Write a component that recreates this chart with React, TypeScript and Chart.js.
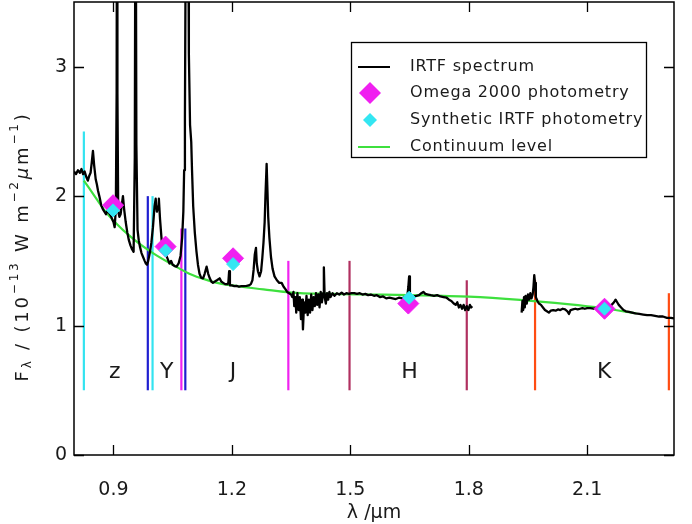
import React, { useEffect, useRef } from 'react';
import { Chart, registerables } from 'chart.js';

Chart.register(...registerables);

// ---------- data ----------
const X_TICKS = [0.9, 1.2, 1.5, 1.8, 2.1];
const Y_TICKS = [0, 1, 2, 3];

// IRTF spectrum (wavelength in micron, flux in 1e-13 W m^-2 um^-1); null = gap
const SPEC_WAVE = [
  0.800, 0.805, 0.810, 0.815, 0.819, 0.823, 0.827, 0.831, 0.835, 0.839, 0.842, 0.845, 0.848, 0.851, 0.855,
  0.858, 0.861, 0.865, 0.869, 0.873, 0.877, 0.881, 0.885, 0.889, 0.893, 0.897, 0.900, 0.903, 0.906, 0.908,
  0.909, 0.910, 0.912, 0.915, 0.918, 0.921, 0.924, 0.927, 0.931, 0.935, 0.939, 0.943, 0.947, 0.951, 0.954,
  0.956, 0.958, 0.961, 0.964, 0.967, 0.971, 0.975, 0.979, 0.982, 0.985, 0.988, 0.992, 0.996, 1.000, 1.004,
  1.007, 1.010, 1.013, 1.015, 1.018, 1.022, 1.026, 1.030, 1.034, 1.038, 1.042, 1.046, 1.050, 1.055, 1.060,
  1.065, 1.070, 1.074, 1.077, 1.079, 1.081, 1.083, 1.085, 1.087, 1.089, 1.091, 1.094, 1.097, 1.099, 1.102,
  1.106, 1.110, 1.114, 1.118, 1.122, 1.127, 1.131, 1.136, 1.140, 1.144, 1.148, 1.152, 1.157, 1.162, 1.169,
  1.173, 1.178, 1.183, 1.188, 1.191, 1.193, 1.195, 1.200, 1.206, 1.212, 1.218, 1.224, 1.230, 1.237, 1.243,
  1.248, 1.252, 1.255, 1.258, 1.261, 1.263, 1.266, 1.270, 1.274, 1.277, 1.280, 1.283, 1.285, 1.288, 1.290,
  1.292, 1.295, 1.299, 1.303, 1.308, 1.314, 1.320, 1.326, 1.331, 1.336, 1.340, 1.345, 1.350, 1.353, 1.356,
  1.358, 1.361, 1.363, 1.366, 1.369, 1.372, 1.375, 1.378, 1.380, 1.383, 1.386, 1.389, 1.392, 1.395, 1.398,
  1.401, 1.404, 1.407, 1.410, 1.413, 1.416, 1.419, 1.422, 1.425, 1.428, 1.431, 1.433, 1.435, 1.438, 1.441,
  1.444, 1.447, 1.450, 1.455, 1.460, 1.466, 1.472, 1.478, 1.484, 1.490, 1.497, 1.503, 1.510, 1.517, 1.524,
  1.531, 1.538, 1.545, 1.552, 1.560, 1.567, 1.575, 1.583, 1.591, 1.599, 1.607, 1.615, 1.623, 1.631, 1.638,
  1.644, 1.647, 1.649, 1.651, 1.656, 1.662, 1.668, 1.674, 1.680, 1.685, 1.690, 1.697, 1.704, 1.712, 1.720,
  1.728, 1.736, 1.744, 1.750, 1.756, 1.762, 1.767, 1.771, 1.775, 1.779, 1.783, 1.787, 1.791, 1.795, 1.799,
  1.803, 1.806, 1.809,
  1.870,
  1.934, 1.936, 1.938, 1.940, 1.942, 1.944, 1.947, 1.950, 1.953, 1.956, 1.959, 1.962, 1.964, 1.966, 1.968,
  1.970, 1.974, 1.978, 1.983, 1.988, 1.993, 1.998, 2.003, 2.008, 2.014, 2.020, 2.026, 2.032, 2.038, 2.044,
  2.050, 2.054, 2.058, 2.064, 2.070, 2.076, 2.082, 2.088, 2.094, 2.100, 2.108, 2.116, 2.124, 2.132, 2.140,
  2.148, 2.156, 2.162, 2.168, 2.172, 2.176, 2.180, 2.186, 2.192, 2.198, 2.206, 2.214, 2.222, 2.232, 2.242,
  2.252, 2.262, 2.272, 2.282, 2.292, 2.302, 2.312, 2.320,
];
const SPEC_FLUX = [
  2.19, 2.17, 2.20, 2.18, 2.21, 2.17, 2.19, 2.15, 2.12, 2.16, 2.18, 2.26, 2.35, 2.24, 2.13,
  2.09, 2.04, 1.99, 1.93, 1.90, 1.88, 1.86, 1.89, 1.87, 1.85, 1.82, 1.80, 1.76, 1.90, 2.80,
  5.00, 2.80, 1.88, 1.84, 1.86, 1.93, 2.00, 1.90, 1.80, 1.72, 1.66, 1.62, 1.59, 1.57, 2.30,
  5.00, 2.40, 1.74, 1.66, 1.61, 1.56, 1.53, 1.50, 1.48, 1.47, 1.50, 1.56, 1.64, 1.76, 1.92,
  1.98, 1.88, 1.92, 1.98, 1.82, 1.66, 1.60, 1.56, 1.54, 1.51, 1.48, 1.50, 1.47, 1.46, 1.455,
  1.48, 1.54, 1.68, 1.88, 2.20, 2.60, 4.00, 6.00, 6.00, 4.50, 3.10, 2.55, 2.42, 2.20, 1.92,
  1.72, 1.58, 1.47, 1.40, 1.37, 1.365, 1.40, 1.455, 1.40, 1.365, 1.34, 1.33, 1.34, 1.35, 1.365,
  1.34, 1.33, 1.32, 1.32, 1.33, 1.42, 1.31, 1.31, 1.305, 1.306, 1.30, 1.305, 1.305, 1.306, 1.31,
  1.32, 1.35, 1.43, 1.55, 1.60, 1.48, 1.42, 1.38, 1.42, 1.52, 1.64, 1.80, 2.00, 2.25, 2.05,
  1.84, 1.68, 1.53, 1.44, 1.38, 1.35, 1.33, 1.33, 1.30, 1.28, 1.26, 1.25, 1.24, 1.22, 1.26,
  1.15, 1.22, 1.10, 1.25, 1.12, 1.22, 1.05, 1.20, 0.97, 1.18, 1.10, 1.23, 1.08, 1.20, 1.10,
  1.24, 1.12, 1.22, 1.15, 1.25, 1.16, 1.24, 1.14, 1.26, 1.18, 1.25, 1.45, 1.22, 1.17, 1.25,
  1.20, 1.26, 1.22, 1.25, 1.23, 1.25, 1.24, 1.255, 1.24, 1.25, 1.245, 1.25, 1.25, 1.245, 1.25,
  1.24, 1.245, 1.235, 1.24, 1.23, 1.235, 1.22, 1.225, 1.21, 1.215, 1.21, 1.205, 1.215, 1.21, 1.22,
  1.215, 1.30, 1.38, 1.23, 1.22, 1.225, 1.23, 1.235, 1.25, 1.26, 1.245, 1.24, 1.235, 1.23, 1.235,
  1.225, 1.22, 1.215, 1.20, 1.19, 1.17, 1.16, 1.18, 1.14, 1.16, 1.13, 1.16, 1.12, 1.15, 1.12,
  1.16, 1.14, 1.15,
  null,
  1.10, 1.19, 1.12, 1.22, 1.14, 1.23, 1.17, 1.24, 1.20, 1.25, 1.21, 1.24, 1.30, 1.39, 1.33,
  1.22, 1.19, 1.17, 1.16, 1.14, 1.12, 1.11, 1.10, 1.115, 1.12, 1.115, 1.125, 1.12, 1.13, 1.125,
  1.11, 1.09, 1.12, 1.125, 1.13, 1.125, 1.13, 1.135, 1.13, 1.135, 1.135, 1.13, 1.135, 1.135, 1.14,
  1.145, 1.15, 1.16, 1.18, 1.20, 1.18, 1.16, 1.14, 1.12, 1.11, 1.105, 1.10, 1.095, 1.09, 1.085,
  1.08, 1.08, 1.075, 1.07, 1.07, 1.06, 1.06, 1.055,
];

// Continuum level
const CONT_WAVE = [0.825, 0.85, 0.875, 0.9, 0.95, 1.0, 1.05, 1.1, 1.15, 1.2, 1.28, 1.35, 1.45, 1.55, 1.65, 1.8, 1.93, 2.05, 2.14, 2.225];
const CONT_FLUX = [2.12, 2.01, 1.9, 1.81, 1.67, 1.56, 1.47, 1.39, 1.34, 1.31, 1.28, 1.255, 1.245, 1.24, 1.235, 1.223, 1.198, 1.165, 1.134, 1.095];

// Photometry
const BANDS = ['z', 'Y', 'J', 'H', 'K'];
const OMEGA_WAVE = [0.899, 1.032, 1.203, 1.647, 2.144];
const OMEGA_FLUX = [1.93, 1.61, 1.52, 1.17, 1.13];
const SYNTH_WAVE = [0.899, 1.032, 1.203, 1.649, 2.144];
const SYNTH_FLUX = [1.89, 1.58, 1.475, 1.215, 1.13];

// Filter edges
const EDGE_WAVE = [0.825, 0.987, 0.999, 1.072, 1.082, 1.343, 1.498, 1.795, 1.968, 2.307];
const EDGE_TOP = [2.5, 2.0, 2.0, 1.75, 1.75, 1.5, 1.5, 1.35, 1.35, 1.25];
const EDGE_BAND = ['z', 'Y', 'z', 'J', 'Y', 'J', 'H', 'H', 'K', 'K'];
const EDGE_BOTTOM = 0.5;

// Band name labels
const BAND_LABEL_WAVE = [0.903, 1.035, 1.203, 1.65, 2.143];
const BAND_LABEL_FLUX = 0.64;

const LEGEND_LABELS = ['IRTF spectrum', 'Omega 2000 photometry', 'Synthetic IRTF photometry', 'Continuum level'];

// ---------- styles ----------
const FONT = "'DejaVu Sans', sans-serif";
const TEXT = '#1a1a1a';
const BAND_COLOR: Record<string, string> = {
  z: '#33e3f0',
  Y: '#1f1fd0',
  J: '#f022f0',
  H: '#b03060',
  K: '#ff4c12',
};
const MAGENTA = '#f020f0';
const CYAN = '#33e6f2';
const GREEN = '#3ee03e';

const overlay = {
  id: 'overlay',
  afterDraw(chart: any) {
    const { ctx, chartArea: a, scales } = chart;
    const x = scales.x;
    const y = scales.y;
    ctx.save();
    // frame
    ctx.strokeStyle = '#000';
    ctx.lineWidth = 1.5;
    ctx.strokeRect(a.left, a.top, a.right - a.left, a.bottom - a.top);
    // inward ticks on all sides
    const TL = 10;
    ctx.lineWidth = 1.3;
    ctx.beginPath();
    for (const v of X_TICKS) {
      const px = Math.round(x.getPixelForValue(v)) + 0.5;
      ctx.moveTo(px, a.bottom);
      ctx.lineTo(px, a.bottom - TL);
      ctx.moveTo(px, a.top);
      ctx.lineTo(px, a.top + TL);
    }
    for (const v of Y_TICKS) {
      const py = Math.round(y.getPixelForValue(v)) + 0.5;
      ctx.moveTo(a.left, py);
      ctx.lineTo(a.left + TL, py);
      ctx.moveTo(a.right, py);
      ctx.lineTo(a.right - TL, py);
    }
    ctx.stroke();

    // band names
    ctx.fillStyle = TEXT;
    ctx.font = `22px ${FONT}`;
    ctx.textAlign = 'center';
    ctx.textBaseline = 'middle';
    BANDS.forEach((b, i) => {
      ctx.fillText(b, x.getPixelForValue(BAND_LABEL_WAVE[i]), y.getPixelForValue(BAND_LABEL_FLUX));
    });

    // legend
    const bl = a.right - 323;
    const bt = a.top + 40;
    const bw = 295;
    const bh = 115;
    ctx.fillStyle = '#fff';
    ctx.fillRect(bl, bt, bw, bh);
    ctx.strokeStyle = '#000';
    ctx.lineWidth = 1.3;
    ctx.strokeRect(bl + 0.5, bt + 0.5, bw, bh);
    const rows = [25, 51, 78, 105];
    const sx = bl + 19;
    ctx.lineWidth = 2;
    ctx.strokeStyle = '#000';
    ctx.beginPath();
    ctx.moveTo(bl + 7, bt + rows[0]);
    ctx.lineTo(bl + 39, bt + rows[0]);
    ctx.stroke();
    const diamond = (cx: number, cy: number, r: number, c: string) => {
      ctx.fillStyle = c;
      ctx.beginPath();
      ctx.moveTo(cx - r, cy);
      ctx.lineTo(cx, cy - r);
      ctx.lineTo(cx + r, cy);
      ctx.lineTo(cx, cy + r);
      ctx.closePath();
      ctx.fill();
    };
    diamond(sx, bt + rows[1], 11, MAGENTA);
    diamond(sx, bt + rows[2], 7, CYAN);
    ctx.strokeStyle = GREEN;
    ctx.beginPath();
    ctx.moveTo(bl + 7, bt + rows[3]);
    ctx.lineTo(bl + 39, bt + rows[3]);
    ctx.stroke();
    ctx.fillStyle = TEXT;
    ctx.font = `16px ${FONT}`;
    (ctx as any).letterSpacing = '0.8px';
    ctx.textAlign = 'left';
    ctx.textBaseline = 'middle';
    LEGEND_LABELS.forEach((t, i) => ctx.fillText(t, bl + 59, bt + rows[i]));

    // y-axis title with sub/superscripts
    const segs: { t: string; k: number; it?: boolean }[] = [
      { t: 'F', k: 0 },
      { t: 'λ', k: -1 },
      { t: ' / (10', k: 0 },
      { t: '−13', k: 1 },
      { t: ' W m', k: 0 },
      { t: '−2', k: 1 },
      { t: 'μ', k: 0, it: true },
      { t: 'm', k: 0 },
      { t: '−1', k: 1 },
      { t: ')', k: 0 },
    ];
    const fontFor = (s: { k: number; it?: boolean }) =>
      `${s.it ? 'italic ' : ''}${s.k === 0 ? 18 : 12}px ${FONT}`;
    (ctx as any).letterSpacing = '2.8px';
    let total = 0;
    for (const s of segs) {
      ctx.font = fontFor(s);
      total += ctx.measureText(s.t).width;
    }
    ctx.translate(28, (a.top + a.bottom) / 2 + 18);
    ctx.rotate(-Math.PI / 2);
    ctx.textAlign = 'left';
    ctx.textBaseline = 'alphabetic';
    let cx = -total / 2;
    for (const s of segs) {
      ctx.font = fontFor(s);
      const dy = s.k === 1 ? -10 : s.k === -1 ? 3 : 0;
      ctx.fillText(s.t, cx, dy);
      cx += ctx.measureText(s.t).width;
    }
    (ctx as any).letterSpacing = '0px';
    ctx.restore();
  },
};

export default function App() {
  const ref = useRef<HTMLCanvasElement | null>(null);

  useEffect(() => {
    if (!ref.current) return;
    const edgeSets = EDGE_WAVE.map((w, i) => ({
      type: 'scatter' as const,
      data: [
        { x: w, y: EDGE_BOTTOM },
        { x: w, y: EDGE_TOP[i] },
      ],
      showLine: true,
      borderColor: BAND_COLOR[EDGE_BAND[i]],
      borderWidth: 2.2,
      pointRadius: 0,
      order: 10,
    }));

    const chart = new Chart(ref.current, {
      type: 'scatter',
      data: {
        datasets: [
          ...edgeSets,
          {
            data: CONT_WAVE.map((w, i) => ({ x: w, y: CONT_FLUX[i] })),
            showLine: true,
            borderColor: GREEN,
            borderWidth: 2.2,
            pointRadius: 0,
            cubicInterpolationMode: 'monotone',
            order: 8,
          },
          {
            data: SPEC_WAVE.map((w, i) => ({ x: w, y: SPEC_FLUX[i] })),
            showLine: true,
            spanGaps: false,
            borderColor: '#000',
            borderWidth: 2.3,
            borderJoinStyle: 'round',
            pointRadius: 0,
            order: 6,
          },
          {
            data: OMEGA_WAVE.map((w, i) => ({ x: w, y: OMEGA_FLUX[i] })),
            pointStyle: 'rectRot',
            pointRadius: 10.5,
            backgroundColor: MAGENTA,
            borderColor: MAGENTA,
            borderWidth: 1,
            order: 4,
          },
          {
            data: SYNTH_WAVE.map((w, i) => ({ x: w, y: SYNTH_FLUX[i] })),
            pointStyle: 'rectRot',
            pointRadius: 6.5,
            backgroundColor: CYAN,
            borderColor: CYAN,
            borderWidth: 1,
            order: 2,
          },
        ] as any,
      },
      options: {
        animation: false,
        responsive: false,
        devicePixelRatio: 1,
        layout: { autoPadding: false, padding: { left: 0, right: 18, top: 2, bottom: 0 } },
        plugins: { legend: { display: false }, tooltip: { enabled: false } },
        scales: {
          x: {
            type: 'linear',
            min: 0.8,
            max: 2.32,
            afterBuildTicks: (s: any) => {
              s.ticks = X_TICKS.map((v) => ({ value: v }));
            },
            afterFit: (s: any) => {
              s.height = 69;
              s.paddingLeft = 0;
              s.paddingRight = 0;
            },
            grid: { display: false, drawTicks: false },
            border: { display: false },
            ticks: {
              autoSkip: false,
              maxRotation: 0,
              padding: 24,
              color: TEXT,
              font: { family: FONT, size: 19 },
              callback: (v: any) => Number(v).toFixed(1),
            },
            title: {
              display: true,
              text: 'λ /μm',
              color: TEXT,
              font: { family: FONT, size: 19 },
              padding: { top: 0, bottom: 0 },
            },
          },
          y: {
            type: 'linear',
            min: 0,
            max: 3.5,
            afterBuildTicks: (s: any) => {
              s.ticks = Y_TICKS.map((v) => ({ value: v }));
            },
            afterFit: (s: any) => {
              s.width = 74;
              s.paddingTop = 0;
              s.paddingBottom = 0;
            },
            grid: { display: false, drawTicks: false },
            border: { display: false },
            ticks: {
              autoSkip: false,
              padding: 7,
              color: TEXT,
              font: { family: FONT, size: 19, lineHeight: 0.15 },
              callback: (v: any) => String(v),
            },
          },
        },
      },
      plugins: [overlay],
    } as any);
    return () => chart.destroy();
  }, []);

  return (
    <div style={{ position: 'absolute', left: 0, top: 0, width: 692, height: 524, background: '#fff' }}>
      <canvas ref={ref} width={692} height={524} />
    </div>
  );
}
